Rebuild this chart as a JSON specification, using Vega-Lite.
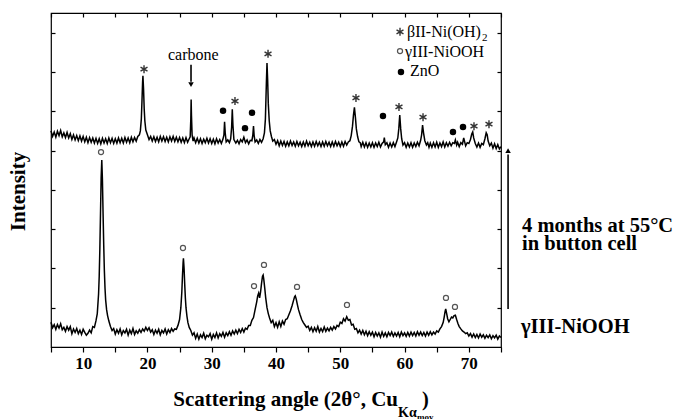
{
  "$schema": "https://vega.github.io/schema/vega-lite/v6.json",
  "width": 450,
  "height": 334,
  "autosize": {"type": "none"},
  "padding": {"left": 51, "top": 13, "right": 179, "bottom": 72},
  "background": "white",
  "config": {
    "view": {"stroke": "#000", "strokeWidth": 1.2},
    "font": "Liberation Serif, Times New Roman, serif"
  },
  "datasets": {
    "tr": [
      {"a":5.0,"i":0.63,"s":"g"},{"a":5.25,"i":0.49,"s":"g"},{"a":5.5,"i":0.57,"s":"g"},{"a":5.75,"i":0.45,"s":"g"},{"a":6.0,"i":0.57,"s":"g"},{"a":6.25,"i":0.48,"s":"g"},{"a":6.5,"i":0.59,"s":"g"},{"a":6.75,"i":0.44,"s":"g"},{"a":7.0,"i":0.5,"s":"g"},{"a":7.25,"i":0.4,"s":"g"},{"a":7.5,"i":0.52,"s":"g"},{"a":7.75,"i":0.43,"s":"g"},{"a":8.0,"i":0.52,"s":"g"},{"a":8.25,"i":0.34,"s":"g"},{"a":8.5,"i":0.46,"s":"g"},{"a":8.75,"i":0.37,"s":"g"},{"a":9.0,"i":0.47,"s":"g"},{"a":9.25,"i":0.34,"s":"g"},{"a":9.5,"i":0.43,"s":"g"},{"a":9.75,"i":0.32,"s":"g"},{"a":10.0,"i":0.45,"s":"g"},{"a":10.25,"i":0.37,"s":"g"},{"a":10.5,"i":0.3,"s":"g"},{"a":10.75,"i":0.35,"s":"g"},{"a":11.0,"i":0.43,"s":"g"},{"a":11.25,"i":0.36,"s":"g"},{"a":11.5,"i":0.52,"s":"g"},{"a":11.75,"i":0.5,"s":"g"},{"a":12.0,"i":0.67,"s":"g"},{"a":12.2,"i":0.85,"s":"g"},{"a":12.4,"i":1.35,"s":"g"},{"a":12.5,"i":1.8,"s":"g"},{"a":12.6,"i":2.5,"s":"g"},{"a":12.7,"i":3.4,"s":"g"},{"a":12.8,"i":4.3,"s":"g"},{"a":12.9,"i":4.76,"s":"g"},{"a":13.0,"i":4.25,"s":"g"},{"a":13.1,"i":3.4,"s":"g"},{"a":13.2,"i":2.6,"s":"g"},{"a":13.3,"i":1.95,"s":"g"},{"a":13.4,"i":1.5,"s":"g"},{"a":13.5,"i":1.2,"s":"g"},{"a":13.65,"i":0.95,"s":"g"},{"a":13.8,"i":0.8,"s":"g"},{"a":14.0,"i":0.66,"s":"g"},{"a":14.25,"i":0.52,"s":"g"},{"a":14.5,"i":0.42,"s":"g"},{"a":14.75,"i":0.47,"s":"g"},{"a":15.0,"i":0.33,"s":"g"},{"a":15.25,"i":0.44,"s":"g"},{"a":15.5,"i":0.35,"s":"g"},{"a":15.75,"i":0.46,"s":"g"},{"a":16.0,"i":0.31,"s":"g"},{"a":16.25,"i":0.42,"s":"g"},{"a":16.5,"i":0.36,"s":"g"},{"a":16.75,"i":0.45,"s":"g"},{"a":17.0,"i":0.3,"s":"g"},{"a":17.25,"i":0.43,"s":"g"},{"a":17.5,"i":0.34,"s":"g"},{"a":17.75,"i":0.47,"s":"g"},{"a":18.0,"i":0.32,"s":"g"},{"a":18.25,"i":0.41,"s":"g"},{"a":18.5,"i":0.35,"s":"g"},{"a":18.75,"i":0.44,"s":"g"},{"a":19.0,"i":0.37,"s":"g"},{"a":19.25,"i":0.46,"s":"g"},{"a":19.5,"i":0.4,"s":"g"},{"a":19.75,"i":0.5,"s":"g"},{"a":20.0,"i":0.42,"s":"g"},{"a":20.25,"i":0.49,"s":"g"},{"a":20.5,"i":0.38,"s":"g"},{"a":20.75,"i":0.44,"s":"g"},{"a":21.0,"i":0.32,"s":"g"},{"a":21.25,"i":0.43,"s":"g"},{"a":21.5,"i":0.35,"s":"g"},{"a":21.75,"i":0.45,"s":"g"},{"a":22.0,"i":0.31,"s":"g"},{"a":22.25,"i":0.42,"s":"g"},{"a":22.5,"i":0.36,"s":"g"},{"a":22.75,"i":0.46,"s":"g"},{"a":23.0,"i":0.33,"s":"g"},{"a":23.25,"i":0.44,"s":"g"},{"a":23.5,"i":0.37,"s":"g"},{"a":23.75,"i":0.47,"s":"g"},{"a":24.0,"i":0.4,"s":"g"},{"a":24.25,"i":0.46,"s":"g"},{"a":24.5,"i":0.45,"s":"g"},{"a":24.75,"i":0.55,"s":"g"},{"a":25.0,"i":0.7,"s":"g"},{"a":25.2,"i":1.0,"s":"g"},{"a":25.35,"i":1.4,"s":"g"},{"a":25.45,"i":1.8,"s":"g"},{"a":25.55,"i":2.15,"s":"g"},{"a":25.6,"i":2.26,"s":"g"},{"a":25.7,"i":2.0,"s":"g"},{"a":25.8,"i":1.6,"s":"g"},{"a":25.9,"i":1.25,"s":"g"},{"a":26.0,"i":1.0,"s":"g"},{"a":26.15,"i":0.78,"s":"g"},{"a":26.3,"i":0.62,"s":"g"},{"a":26.5,"i":0.5,"s":"g"},{"a":26.75,"i":0.42,"s":"g"},{"a":27.0,"i":0.3,"s":"g"},{"a":27.25,"i":0.36,"s":"g"},{"a":27.5,"i":0.22,"s":"g"},{"a":27.75,"i":0.33,"s":"g"},{"a":28.0,"i":0.2,"s":"g"},{"a":28.25,"i":0.31,"s":"g"},{"a":28.5,"i":0.24,"s":"g"},{"a":28.75,"i":0.35,"s":"g"},{"a":29.0,"i":0.21,"s":"g"},{"a":29.25,"i":0.3,"s":"g"},{"a":29.5,"i":0.26,"s":"g"},{"a":29.75,"i":0.34,"s":"g"},{"a":30.0,"i":0.2,"s":"g"},{"a":30.25,"i":0.32,"s":"g"},{"a":30.5,"i":0.24,"s":"g"},{"a":30.75,"i":0.36,"s":"g"},{"a":31.0,"i":0.23,"s":"g"},{"a":31.25,"i":0.34,"s":"g"},{"a":31.5,"i":0.27,"s":"g"},{"a":31.75,"i":0.37,"s":"g"},{"a":32.0,"i":0.25,"s":"g"},{"a":32.25,"i":0.36,"s":"g"},{"a":32.5,"i":0.29,"s":"g"},{"a":32.75,"i":0.39,"s":"g"},{"a":33.0,"i":0.3,"s":"g"},{"a":33.25,"i":0.41,"s":"g"},{"a":33.5,"i":0.33,"s":"g"},{"a":33.75,"i":0.43,"s":"g"},{"a":34.0,"i":0.34,"s":"g"},{"a":34.25,"i":0.45,"s":"g"},{"a":34.5,"i":0.37,"s":"g"},{"a":34.75,"i":0.47,"s":"g"},{"a":35.0,"i":0.38,"s":"g"},{"a":35.25,"i":0.48,"s":"g"},{"a":35.5,"i":0.45,"s":"g"},{"a":35.75,"i":0.55,"s":"g"},{"a":36.0,"i":0.55,"s":"g"},{"a":36.25,"i":0.68,"s":"g"},{"a":36.5,"i":0.75,"s":"g"},{"a":36.75,"i":0.95,"s":"g"},{"a":37.0,"i":1.15,"s":"g"},{"a":37.15,"i":1.3,"s":"g"},{"a":37.3,"i":1.37,"s":"g"},{"a":37.45,"i":1.25,"s":"g"},{"a":37.6,"i":1.4,"s":"g"},{"a":37.75,"i":1.62,"s":"g"},{"a":37.9,"i":1.8,"s":"g"},{"a":38.0,"i":1.83,"s":"g"},{"a":38.1,"i":1.72,"s":"g"},{"a":38.25,"i":1.5,"s":"g"},{"a":38.4,"i":1.25,"s":"g"},{"a":38.6,"i":1.0,"s":"g"},{"a":38.8,"i":0.85,"s":"g"},{"a":39.0,"i":0.74,"s":"g"},{"a":39.25,"i":0.62,"s":"g"},{"a":39.5,"i":0.68,"s":"g"},{"a":39.75,"i":0.52,"s":"g"},{"a":40.0,"i":0.62,"s":"g"},{"a":40.25,"i":0.5,"s":"g"},{"a":40.5,"i":0.64,"s":"g"},{"a":40.75,"i":0.52,"s":"g"},{"a":41.0,"i":0.66,"s":"g"},{"a":41.25,"i":0.58,"s":"g"},{"a":41.5,"i":0.7,"s":"g"},{"a":41.75,"i":0.72,"s":"g"},{"a":42.0,"i":0.82,"s":"g"},{"a":42.25,"i":0.92,"s":"g"},{"a":42.5,"i":1.05,"s":"g"},{"a":42.75,"i":1.2,"s":"g"},{"a":42.9,"i":1.28,"s":"g"},{"a":43.0,"i":1.3,"s":"g"},{"a":43.15,"i":1.22,"s":"g"},{"a":43.3,"i":1.1,"s":"g"},{"a":43.5,"i":0.95,"s":"g"},{"a":43.75,"i":0.82,"s":"g"},{"a":44.0,"i":0.7,"s":"g"},{"a":44.25,"i":0.62,"s":"g"},{"a":44.5,"i":0.56,"s":"g"},{"a":44.75,"i":0.5,"s":"g"},{"a":45.0,"i":0.53,"s":"g"},{"a":45.25,"i":0.42,"s":"g"},{"a":45.5,"i":0.5,"s":"g"},{"a":45.75,"i":0.39,"s":"g"},{"a":46.0,"i":0.49,"s":"g"},{"a":46.25,"i":0.4,"s":"g"},{"a":46.5,"i":0.52,"s":"g"},{"a":46.75,"i":0.38,"s":"g"},{"a":47.0,"i":0.47,"s":"g"},{"a":47.25,"i":0.39,"s":"g"},{"a":47.5,"i":0.51,"s":"g"},{"a":47.75,"i":0.4,"s":"g"},{"a":48.0,"i":0.48,"s":"g"},{"a":48.25,"i":0.41,"s":"g"},{"a":48.5,"i":0.5,"s":"g"},{"a":48.75,"i":0.43,"s":"g"},{"a":49.0,"i":0.52,"s":"g"},{"a":49.25,"i":0.46,"s":"g"},{"a":49.5,"i":0.55,"s":"g"},{"a":49.75,"i":0.52,"s":"g"},{"a":50.0,"i":0.63,"s":"g"},{"a":50.25,"i":0.6,"s":"g"},{"a":50.5,"i":0.72,"s":"g"},{"a":50.75,"i":0.66,"s":"g"},{"a":51.0,"i":0.77,"s":"g"},{"a":51.25,"i":0.68,"s":"g"},{"a":51.5,"i":0.7,"s":"g"},{"a":51.75,"i":0.56,"s":"g"},{"a":52.0,"i":0.58,"s":"g"},{"a":52.25,"i":0.45,"s":"g"},{"a":52.5,"i":0.47,"s":"g"},{"a":52.75,"i":0.36,"s":"g"},{"a":53.0,"i":0.43,"s":"g"},{"a":53.25,"i":0.33,"s":"g"},{"a":53.5,"i":0.42,"s":"g"},{"a":53.75,"i":0.31,"s":"g"},{"a":54.0,"i":0.4,"s":"g"},{"a":54.25,"i":0.29,"s":"g"},{"a":54.5,"i":0.39,"s":"g"},{"a":54.75,"i":0.3,"s":"g"},{"a":55.0,"i":0.38,"s":"g"},{"a":55.25,"i":0.26,"s":"g"},{"a":55.5,"i":0.37,"s":"g"},{"a":55.75,"i":0.28,"s":"g"},{"a":56.0,"i":0.36,"s":"g"},{"a":56.25,"i":0.25,"s":"g"},{"a":56.5,"i":0.38,"s":"g"},{"a":56.75,"i":0.27,"s":"g"},{"a":57.0,"i":0.36,"s":"g"},{"a":57.25,"i":0.26,"s":"g"},{"a":57.5,"i":0.37,"s":"g"},{"a":57.75,"i":0.29,"s":"g"},{"a":58.0,"i":0.38,"s":"g"},{"a":58.25,"i":0.27,"s":"g"},{"a":58.5,"i":0.36,"s":"g"},{"a":58.75,"i":0.28,"s":"g"},{"a":59.0,"i":0.37,"s":"g"},{"a":59.25,"i":0.26,"s":"g"},{"a":59.5,"i":0.38,"s":"g"},{"a":59.75,"i":0.29,"s":"g"},{"a":60.0,"i":0.36,"s":"g"},{"a":60.25,"i":0.27,"s":"g"},{"a":60.5,"i":0.37,"s":"g"},{"a":60.75,"i":0.28,"s":"g"},{"a":61.0,"i":0.38,"s":"g"},{"a":61.25,"i":0.29,"s":"g"},{"a":61.5,"i":0.37,"s":"g"},{"a":61.75,"i":0.28,"s":"g"},{"a":62.0,"i":0.39,"s":"g"},{"a":62.25,"i":0.3,"s":"g"},{"a":62.5,"i":0.38,"s":"g"},{"a":62.75,"i":0.29,"s":"g"},{"a":63.0,"i":0.37,"s":"g"},{"a":63.25,"i":0.28,"s":"g"},{"a":63.5,"i":0.38,"s":"g"},{"a":63.75,"i":0.3,"s":"g"},{"a":64.0,"i":0.39,"s":"g"},{"a":64.25,"i":0.31,"s":"g"},{"a":64.5,"i":0.38,"s":"g"},{"a":64.75,"i":0.33,"s":"g"},{"a":65.0,"i":0.41,"s":"g"},{"a":65.25,"i":0.38,"s":"g"},{"a":65.5,"i":0.46,"s":"g"},{"a":65.75,"i":0.52,"s":"g"},{"a":66.0,"i":0.62,"s":"g"},{"a":66.15,"i":0.75,"s":"g"},{"a":66.3,"i":0.9,"s":"g"},{"a":66.4,"i":0.97,"s":"g"},{"a":66.55,"i":0.85,"s":"g"},{"a":66.7,"i":0.72,"s":"g"},{"a":66.9,"i":0.64,"s":"g"},{"a":67.1,"i":0.7,"s":"g"},{"a":67.3,"i":0.76,"s":"g"},{"a":67.5,"i":0.74,"s":"g"},{"a":67.7,"i":0.8,"s":"g"},{"a":67.9,"i":0.81,"s":"g"},{"a":68.1,"i":0.7,"s":"g"},{"a":68.3,"i":0.6,"s":"g"},{"a":68.5,"i":0.52,"s":"g"},{"a":68.75,"i":0.46,"s":"g"},{"a":69.0,"i":0.41,"s":"g"},{"a":69.25,"i":0.38,"s":"g"},{"a":69.5,"i":0.34,"s":"g"},{"a":69.75,"i":0.36,"s":"g"},{"a":70.0,"i":0.28,"s":"g"},{"a":70.25,"i":0.34,"s":"g"},{"a":70.5,"i":0.25,"s":"g"},{"a":70.75,"i":0.33,"s":"g"},{"a":71.0,"i":0.24,"s":"g"},{"a":71.25,"i":0.32,"s":"g"},{"a":71.5,"i":0.23,"s":"g"},{"a":71.75,"i":0.33,"s":"g"},{"a":72.0,"i":0.25,"s":"g"},{"a":72.25,"i":0.31,"s":"g"},{"a":72.5,"i":0.22,"s":"g"},{"a":72.75,"i":0.3,"s":"g"},{"a":73.0,"i":0.24,"s":"g"},{"a":73.25,"i":0.31,"s":"g"},{"a":73.5,"i":0.21,"s":"g"},{"a":73.75,"i":0.29,"s":"g"},{"a":74.0,"i":0.23,"s":"g"},{"a":74.25,"i":0.3,"s":"g"},{"a":74.5,"i":0.2,"s":"g"},{"a":74.75,"i":0.28,"s":"g"},{"a":75.0,"i":0.24,"s":"g"},
      {"a":5.0,"i":5.5,"s":"t"},{"a":5.25,"i":5.36,"s":"t"},{"a":5.5,"i":5.47,"s":"t"},{"a":5.75,"i":5.34,"s":"t"},{"a":6.0,"i":5.49,"s":"t"},{"a":6.25,"i":5.38,"s":"t"},{"a":6.5,"i":5.51,"s":"t"},{"a":6.75,"i":5.35,"s":"t"},{"a":7.0,"i":5.45,"s":"t"},{"a":7.25,"i":5.33,"s":"t"},{"a":7.5,"i":5.46,"s":"t"},{"a":7.75,"i":5.32,"s":"t"},{"a":8.0,"i":5.43,"s":"t"},{"a":8.25,"i":5.28,"s":"t"},{"a":8.5,"i":5.4,"s":"t"},{"a":8.75,"i":5.27,"s":"t"},{"a":9.0,"i":5.38,"s":"t"},{"a":9.25,"i":5.25,"s":"t"},{"a":9.5,"i":5.37,"s":"t"},{"a":9.75,"i":5.24,"s":"t"},{"a":10.0,"i":5.36,"s":"t"},{"a":10.25,"i":5.22,"s":"t"},{"a":10.5,"i":5.34,"s":"t"},{"a":10.75,"i":5.2,"s":"t"},{"a":11.0,"i":5.33,"s":"t"},{"a":11.25,"i":5.21,"s":"t"},{"a":11.5,"i":5.32,"s":"t"},{"a":11.75,"i":5.19,"s":"t"},{"a":12.0,"i":5.31,"s":"t"},{"a":12.25,"i":5.18,"s":"t"},{"a":12.5,"i":5.3,"s":"t"},{"a":12.75,"i":5.17,"s":"t"},{"a":13.0,"i":5.31,"s":"t"},{"a":13.25,"i":5.19,"s":"t"},{"a":13.5,"i":5.3,"s":"t"},{"a":13.75,"i":5.18,"s":"t"},{"a":14.0,"i":5.32,"s":"t"},{"a":14.25,"i":5.2,"s":"t"},{"a":14.5,"i":5.31,"s":"t"},{"a":14.75,"i":5.18,"s":"t"},{"a":15.0,"i":5.3,"s":"t"},{"a":15.25,"i":5.19,"s":"t"},{"a":15.5,"i":5.32,"s":"t"},{"a":15.75,"i":5.2,"s":"t"},{"a":16.0,"i":5.31,"s":"t"},{"a":16.25,"i":5.19,"s":"t"},{"a":16.5,"i":5.33,"s":"t"},{"a":16.75,"i":5.21,"s":"t"},{"a":17.0,"i":5.32,"s":"t"},{"a":17.25,"i":5.2,"s":"t"},{"a":17.5,"i":5.34,"s":"t"},{"a":17.75,"i":5.22,"s":"t"},{"a":18.0,"i":5.33,"s":"t"},{"a":18.25,"i":5.24,"s":"t"},{"a":18.5,"i":5.36,"s":"t"},{"a":18.75,"i":5.4,"s":"t"},{"a":18.9,"i":5.5,"s":"t"},{"a":19.05,"i":5.8,"s":"t"},{"a":19.15,"i":6.25,"s":"t"},{"a":19.25,"i":6.75,"s":"t"},{"a":19.3,"i":6.9,"s":"t"},{"a":19.4,"i":6.55,"s":"t"},{"a":19.5,"i":6.05,"s":"t"},{"a":19.6,"i":5.75,"s":"t"},{"a":19.75,"i":5.52,"s":"t"},{"a":20.0,"i":5.4,"s":"t"},{"a":20.25,"i":5.28,"s":"t"},{"a":20.5,"i":5.36,"s":"t"},{"a":20.75,"i":5.24,"s":"t"},{"a":21.0,"i":5.35,"s":"t"},{"a":21.25,"i":5.23,"s":"t"},{"a":21.5,"i":5.34,"s":"t"},{"a":21.75,"i":5.22,"s":"t"},{"a":22.0,"i":5.36,"s":"t"},{"a":22.25,"i":5.24,"s":"t"},{"a":22.5,"i":5.35,"s":"t"},{"a":22.75,"i":5.23,"s":"t"},{"a":23.0,"i":5.34,"s":"t"},{"a":23.25,"i":5.22,"s":"t"},{"a":23.5,"i":5.35,"s":"t"},{"a":23.75,"i":5.24,"s":"t"},{"a":24.0,"i":5.36,"s":"t"},{"a":24.25,"i":5.23,"s":"t"},{"a":24.5,"i":5.34,"s":"t"},{"a":24.75,"i":5.22,"s":"t"},{"a":25.0,"i":5.33,"s":"t"},{"a":25.25,"i":5.21,"s":"t"},{"a":25.5,"i":5.32,"s":"t"},{"a":25.75,"i":5.2,"s":"t"},{"a":26.0,"i":5.33,"s":"t"},{"a":26.25,"i":5.21,"s":"t"},{"a":26.5,"i":5.3,"s":"t"},{"a":26.65,"i":5.35,"s":"t"},{"a":26.75,"i":5.8,"s":"t"},{"a":26.8,"i":6.3,"s":"t"},{"a":26.85,"i":5.9,"s":"t"},{"a":26.95,"i":5.4,"s":"t"},{"a":27.1,"i":5.24,"s":"t"},{"a":27.25,"i":5.32,"s":"t"},{"a":27.5,"i":5.2,"s":"t"},{"a":27.75,"i":5.31,"s":"t"},{"a":28.0,"i":5.19,"s":"t"},{"a":28.25,"i":5.3,"s":"t"},{"a":28.5,"i":5.18,"s":"t"},{"a":28.75,"i":5.29,"s":"t"},{"a":29.0,"i":5.2,"s":"t"},{"a":29.25,"i":5.31,"s":"t"},{"a":29.5,"i":5.19,"s":"t"},{"a":29.75,"i":5.3,"s":"t"},{"a":30.0,"i":5.18,"s":"t"},{"a":30.25,"i":5.29,"s":"t"},{"a":30.5,"i":5.17,"s":"t"},{"a":30.75,"i":5.3,"s":"t"},{"a":31.0,"i":5.19,"s":"t"},{"a":31.25,"i":5.28,"s":"t"},{"a":31.5,"i":5.18,"s":"t"},{"a":31.75,"i":5.29,"s":"t"},{"a":31.9,"i":5.4,"s":"t"},{"a":32.0,"i":5.73,"s":"t"},{"a":32.1,"i":5.45,"s":"t"},{"a":32.25,"i":5.22,"s":"t"},{"a":32.5,"i":5.27,"s":"t"},{"a":32.75,"i":5.2,"s":"t"},{"a":32.95,"i":5.3,"s":"t"},{"a":33.1,"i":5.6,"s":"t"},{"a":33.2,"i":6.05,"s":"t"},{"a":33.3,"i":5.65,"s":"t"},{"a":33.45,"i":5.28,"s":"t"},{"a":33.75,"i":5.19,"s":"t"},{"a":34.0,"i":5.26,"s":"t"},{"a":34.25,"i":5.17,"s":"t"},{"a":34.5,"i":5.28,"s":"t"},{"a":34.75,"i":5.22,"s":"t"},{"a":35.0,"i":5.34,"s":"t"},{"a":35.25,"i":5.2,"s":"t"},{"a":35.5,"i":5.27,"s":"t"},{"a":35.75,"i":5.17,"s":"t"},{"a":36.0,"i":5.26,"s":"t"},{"a":36.25,"i":5.25,"s":"t"},{"a":36.4,"i":5.4,"s":"t"},{"a":36.5,"i":5.62,"s":"t"},{"a":36.6,"i":5.38,"s":"t"},{"a":36.75,"i":5.22,"s":"t"},{"a":37.0,"i":5.27,"s":"t"},{"a":37.25,"i":5.18,"s":"t"},{"a":37.5,"i":5.28,"s":"t"},{"a":37.75,"i":5.21,"s":"t"},{"a":38.0,"i":5.3,"s":"t"},{"a":38.2,"i":5.45,"s":"t"},{"a":38.35,"i":5.8,"s":"t"},{"a":38.5,"i":6.7,"s":"t"},{"a":38.6,"i":7.23,"s":"t"},{"a":38.7,"i":6.8,"s":"t"},{"a":38.8,"i":6.2,"s":"t"},{"a":38.95,"i":5.75,"s":"t"},{"a":39.1,"i":5.5,"s":"t"},{"a":39.3,"i":5.35,"s":"t"},{"a":39.5,"i":5.24,"s":"t"},{"a":39.75,"i":5.28,"s":"t"},{"a":40.0,"i":5.16,"s":"t"},{"a":40.25,"i":5.25,"s":"t"},{"a":40.5,"i":5.12,"s":"t"},{"a":40.75,"i":5.24,"s":"t"},{"a":41.0,"i":5.13,"s":"t"},{"a":41.25,"i":5.23,"s":"t"},{"a":41.5,"i":5.11,"s":"t"},{"a":41.75,"i":5.22,"s":"t"},{"a":42.0,"i":5.12,"s":"t"},{"a":42.25,"i":5.24,"s":"t"},{"a":42.5,"i":5.13,"s":"t"},{"a":42.75,"i":5.22,"s":"t"},{"a":43.0,"i":5.11,"s":"t"},{"a":43.25,"i":5.23,"s":"t"},{"a":43.5,"i":5.12,"s":"t"},{"a":43.75,"i":5.21,"s":"t"},{"a":44.0,"i":5.1,"s":"t"},{"a":44.25,"i":5.22,"s":"t"},{"a":44.5,"i":5.11,"s":"t"},{"a":44.75,"i":5.24,"s":"t"},{"a":45.0,"i":5.12,"s":"t"},{"a":45.25,"i":5.21,"s":"t"},{"a":45.5,"i":5.1,"s":"t"},{"a":45.75,"i":5.22,"s":"t"},{"a":46.0,"i":5.11,"s":"t"},{"a":46.25,"i":5.23,"s":"t"},{"a":46.5,"i":5.12,"s":"t"},{"a":46.75,"i":5.21,"s":"t"},{"a":47.0,"i":5.1,"s":"t"},{"a":47.25,"i":5.22,"s":"t"},{"a":47.5,"i":5.11,"s":"t"},{"a":47.75,"i":5.23,"s":"t"},{"a":48.0,"i":5.12,"s":"t"},{"a":48.25,"i":5.21,"s":"t"},{"a":48.5,"i":5.1,"s":"t"},{"a":48.75,"i":5.22,"s":"t"},{"a":49.0,"i":5.11,"s":"t"},{"a":49.25,"i":5.23,"s":"t"},{"a":49.5,"i":5.12,"s":"t"},{"a":49.75,"i":5.21,"s":"t"},{"a":50.0,"i":5.1,"s":"t"},{"a":50.25,"i":5.22,"s":"t"},{"a":50.5,"i":5.11,"s":"t"},{"a":50.75,"i":5.23,"s":"t"},{"a":51.0,"i":5.14,"s":"t"},{"a":51.25,"i":5.22,"s":"t"},{"a":51.5,"i":5.25,"s":"t"},{"a":51.7,"i":5.38,"s":"t"},{"a":51.9,"i":5.62,"s":"t"},{"a":52.05,"i":5.9,"s":"t"},{"a":52.2,"i":6.1,"s":"t"},{"a":52.35,"i":5.85,"s":"t"},{"a":52.5,"i":5.55,"s":"t"},{"a":52.7,"i":5.35,"s":"t"},{"a":52.9,"i":5.22,"s":"t"},{"a":53.1,"i":5.2,"s":"t"},{"a":53.25,"i":5.1,"s":"t"},{"a":53.5,"i":5.21,"s":"t"},{"a":53.75,"i":5.09,"s":"t"},{"a":54.0,"i":5.2,"s":"t"},{"a":54.25,"i":5.08,"s":"t"},{"a":54.5,"i":5.19,"s":"t"},{"a":54.75,"i":5.09,"s":"t"},{"a":55.0,"i":5.2,"s":"t"},{"a":55.25,"i":5.08,"s":"t"},{"a":55.5,"i":5.19,"s":"t"},{"a":55.75,"i":5.1,"s":"t"},{"a":56.0,"i":5.21,"s":"t"},{"a":56.25,"i":5.09,"s":"t"},{"a":56.5,"i":5.18,"s":"t"},{"a":56.75,"i":5.22,"s":"t"},{"a":56.85,"i":5.33,"s":"t"},{"a":57.0,"i":5.15,"s":"t"},{"a":57.25,"i":5.2,"s":"t"},{"a":57.5,"i":5.08,"s":"t"},{"a":57.75,"i":5.19,"s":"t"},{"a":58.0,"i":5.09,"s":"t"},{"a":58.25,"i":5.2,"s":"t"},{"a":58.5,"i":5.1,"s":"t"},{"a":58.75,"i":5.22,"s":"t"},{"a":58.95,"i":5.32,"s":"t"},{"a":59.1,"i":5.55,"s":"t"},{"a":59.25,"i":5.9,"s":"t"},{"a":59.4,"i":5.55,"s":"t"},{"a":59.55,"i":5.3,"s":"t"},{"a":59.75,"i":5.14,"s":"t"},{"a":60.0,"i":5.2,"s":"t"},{"a":60.25,"i":5.08,"s":"t"},{"a":60.5,"i":5.19,"s":"t"},{"a":60.75,"i":5.09,"s":"t"},{"a":61.0,"i":5.2,"s":"t"},{"a":61.25,"i":5.08,"s":"t"},{"a":61.5,"i":5.19,"s":"t"},{"a":61.75,"i":5.1,"s":"t"},{"a":62.0,"i":5.21,"s":"t"},{"a":62.25,"i":5.12,"s":"t"},{"a":62.5,"i":5.26,"s":"t"},{"a":62.65,"i":5.4,"s":"t"},{"a":62.8,"i":5.65,"s":"t"},{"a":62.95,"i":5.45,"s":"t"},{"a":63.15,"i":5.25,"s":"t"},{"a":63.4,"i":5.14,"s":"t"},{"a":63.6,"i":5.2,"s":"t"},{"a":63.8,"i":5.08,"s":"t"},{"a":64.0,"i":5.19,"s":"t"},{"a":64.25,"i":5.08,"s":"t"},{"a":64.5,"i":5.2,"s":"t"},{"a":64.75,"i":5.09,"s":"t"},{"a":65.0,"i":5.21,"s":"t"},{"a":65.25,"i":5.08,"s":"t"},{"a":65.5,"i":5.19,"s":"t"},{"a":65.75,"i":5.1,"s":"t"},{"a":66.0,"i":5.22,"s":"t"},{"a":66.25,"i":5.09,"s":"t"},{"a":66.5,"i":5.2,"s":"t"},{"a":66.75,"i":5.11,"s":"t"},{"a":67.0,"i":5.21,"s":"t"},{"a":67.25,"i":5.12,"s":"t"},{"a":67.5,"i":5.2,"s":"t"},{"a":67.75,"i":5.18,"s":"t"},{"a":67.9,"i":5.27,"s":"t"},{"a":68.1,"i":5.14,"s":"t"},{"a":68.25,"i":5.21,"s":"t"},{"a":68.5,"i":5.1,"s":"t"},{"a":68.75,"i":5.2,"s":"t"},{"a":69.0,"i":5.16,"s":"t"},{"a":69.2,"i":5.32,"s":"t"},{"a":69.35,"i":5.22,"s":"t"},{"a":69.5,"i":5.12,"s":"t"},{"a":69.75,"i":5.2,"s":"t"},{"a":70.0,"i":5.18,"s":"t"},{"a":70.25,"i":5.28,"s":"t"},{"a":70.45,"i":5.42,"s":"t"},{"a":70.6,"i":5.47,"s":"t"},{"a":70.75,"i":5.32,"s":"t"},{"a":71.0,"i":5.18,"s":"t"},{"a":71.25,"i":5.09,"s":"t"},{"a":71.5,"i":5.19,"s":"t"},{"a":71.75,"i":5.08,"s":"t"},{"a":72.0,"i":5.18,"s":"t"},{"a":72.25,"i":5.15,"s":"t"},{"a":72.5,"i":5.3,"s":"t"},{"a":72.7,"i":5.45,"s":"t"},{"a":72.85,"i":5.4,"s":"t"},{"a":73.0,"i":5.24,"s":"t"},{"a":73.25,"i":5.12,"s":"t"},{"a":73.5,"i":5.19,"s":"t"},{"a":73.75,"i":5.06,"s":"t"},{"a":74.0,"i":5.17,"s":"t"},{"a":74.25,"i":5.05,"s":"t"},{"a":74.5,"i":5.15,"s":"t"},{"a":74.75,"i":5.04,"s":"t"},{"a":75.0,"i":5.1,"s":"t"}
    ],
    "sym": [
      {"a":19.47,"i":7.07,"k":"star"},{"a":33.62,"i":6.26,"k":"star"},{"a":38.76,"i":7.46,"k":"star"},{"a":52.44,"i":6.34,"k":"star"},{"a":59.13,"i":6.11,"k":"star"},{"a":62.87,"i":5.85,"k":"star"},{"a":70.8,"i":5.62,"k":"star"},{"a":73.13,"i":5.67,"k":"star"},{"a":59.29,"i":8.02,"k":"star"},
      {"a":12.78,"i":4.96,"k":"open"},{"a":25.53,"i":2.52,"k":"open"},{"a":36.58,"i":1.55,"k":"open"},{"a":38.13,"i":2.09,"k":"open"},{"a":43.27,"i":1.53,"k":"open"},{"a":51.04,"i":1.07,"k":"open"},{"a":66.44,"i":1.25,"k":"open"},{"a":67.84,"i":1.02,"k":"open"},{"a":59.29,"i":7.53,"k":"open"},
      {"a":31.76,"i":6.01,"k":"dot"},{"a":35.18,"i":5.57,"k":"dot"},{"a":36.27,"i":5.96,"k":"dot"},{"a":56.64,"i":5.88,"k":"dot"},{"a":67.53,"i":5.47,"k":"dot"},{"a":69.09,"i":5.6,"k":"dot"},{"a":59.44,"i":7.0,"k":"dot"}
    ]
  },
  "resolve": {"axis": {"x": "independent", "y": "independent"}},
  "layer": [
    {
      "data": {"name": "tr"},
      "mark": {"type": "line", "color": "#000", "strokeWidth": 1.5, "interpolate": "linear"},
      "encoding": {
        "x": {"field": "a", "type": "quantitative", "scale": {"domain": [5, 75], "nice": false, "zero": false},
              "axis": {"orient": "bottom", "title": null, "values": [5,10,15,20,25,30,35,40,45,50,55,60,65,70,75],
                       "labelExpr": "datum.value % 10 == 0 ? datum.label : ''", "grid": false, "domain": false,
                       "tickSize": 5, "tickColor": "#000", "tickWidth": 1.2, "labelPadding": 3,
                       "labelFont": "Liberation Serif, Times New Roman, serif", "labelFontWeight": "bold", "labelFontSize": 17, "labelColor": "#000"}},
        "y": {"field": "i", "type": "quantitative", "scale": {"domain": [0, 8.5], "nice": false, "zero": false},
              "axis": {"orient": "left", "title": "Intensity", "values": [1,2,3,4,5,6,7,8], "labels": false, "grid": false,
                       "domain": false, "tickSize": -4, "tickColor": "#000", "tickWidth": 1.2,
                       "titleFont": "Liberation Serif, Times New Roman, serif", "titleFontWeight": "bold", "titleFontSize": 21, "titleColor": "#000",
                       "titleX": -33, "titleY": 178, "titleAngle": -90, "titleAlign": "center", "titleBaseline": "middle"}},
        "detail": {"field": "s"}
      }
    },
    {
      "data": {"name": "sym"},
      "transform": [{"filter": "datum.k == 'star'"}],
      "mark": {"type": "point", "shape": "M0,-1L0,1M-0.87,-0.5L0.87,0.5M-0.87,0.5L0.87,-0.5", "filled": false, "stroke": "#333", "strokeWidth": 1.4, "size": 64, "opacity": 1},
      "encoding": {
        "x": {"field": "a", "type": "quantitative", "scale": {"domain": [5, 75], "nice": false, "zero": false},
              "axis": {"orient": "top", "title": null, "values": [5,10,15,20,25,30,35,40,45,50,55,60,65,70,75], "labels": false,
                       "grid": false, "domain": false, "tickSize": -4, "tickColor": "#000", "tickWidth": 1.2}},
        "y": {"field": "i", "type": "quantitative", "scale": {"domain": [0, 8.5], "nice": false, "zero": false},
              "axis": {"orient": "right", "title": null, "values": [1,2,3,4,5,6,7,8], "labels": false,
                       "grid": false, "domain": false, "tickSize": -4, "tickColor": "#000", "tickWidth": 1.2}}
      }
    },
    {
      "data": {"name": "sym"},
      "transform": [{"filter": "datum.k == 'open'"}],
      "mark": {"type": "point", "shape": "circle", "filled": false, "stroke": "#555", "strokeWidth": 1.2, "size": 26, "opacity": 1},
      "encoding": {
        "x": {"field": "a", "type": "quantitative", "scale": {"domain": [5, 75], "nice": false, "zero": false}, "axis": null},
        "y": {"field": "i", "type": "quantitative", "scale": {"domain": [0, 8.5], "nice": false, "zero": false}, "axis": null}
      }
    },
    {
      "data": {"name": "sym"},
      "transform": [{"filter": "datum.k == 'dot'"}],
      "mark": {"type": "point", "shape": "circle", "filled": true, "color": "#000", "size": 42, "opacity": 1},
      "encoding": {
        "x": {"field": "a", "type": "quantitative", "scale": {"domain": [5, 75], "nice": false, "zero": false}, "axis": null},
        "y": {"field": "i", "type": "quantitative", "scale": {"domain": [0, 8.5], "nice": false, "zero": false}, "axis": null}
      }
    },
    {
      "data": {"values": [{"a": 26.78, "i": 7.18, "i2": 6.75}, {"a": 76.1, "i": 0.97, "i2": 4.9}]},
      "mark": {"type": "rule", "color": "#000", "strokeWidth": 1.6},
      "encoding": {
        "x": {"field": "a", "type": "quantitative", "scale": {"domain": [5, 75], "nice": false, "zero": false}, "axis": null},
        "y": {"field": "i", "type": "quantitative", "scale": {"domain": [0, 8.5], "nice": false, "zero": false}, "axis": null},
        "y2": {"field": "i2"}
      }
    },
    {
      "data": {"values": [{"a": 26.78, "i": 6.68, "d": "down"}, {"a": 76.1, "i": 5.0, "d": "up"}]},
      "mark": {"type": "point", "filled": true, "color": "#000", "size": 30, "opacity": 1},
      "encoding": {
        "x": {"field": "a", "type": "quantitative", "scale": {"domain": [5, 75], "nice": false, "zero": false}, "axis": null},
        "y": {"field": "i", "type": "quantitative", "scale": {"domain": [0, 8.5], "nice": false, "zero": false}, "axis": null},
        "shape": {"field": "d", "type": "nominal", "scale": {"domain": ["down", "up"], "range": ["triangle-down", "triangle-up"]}, "legend": null}
      }
    },
    {
      "data": {"values": [
        {"a": 60.38, "i": 7.89, "t": "βII-Ni(OH)"},
        {"a": 60.07, "i": 7.38, "t": "γIII-NiOOH"},
        {"a": 60.84, "i": 6.9, "t": "ZnO"},
        {"a": 23.2, "i": 7.3, "t": "carbone"}
      ]},
      "mark": {"type": "text", "font": "Liberation Serif, Times New Roman, serif", "fontSize": 16, "fontWeight": "normal", "color": "#000", "align": "left", "baseline": "alphabetic"},
      "encoding": {
        "x": {"field": "a", "type": "quantitative", "scale": {"domain": [5, 75], "nice": false, "zero": false}, "axis": null},
        "y": {"field": "i", "type": "quantitative", "scale": {"domain": [0, 8.5], "nice": false, "zero": false}, "axis": null},
        "text": {"field": "t"}
      }
    },
    {
      "data": {"values": [{"a": 72.05, "i": 7.79, "t": "2"}]},
      "mark": {"type": "text", "font": "Liberation Serif, Times New Roman, serif", "fontSize": 11, "color": "#000", "align": "left", "baseline": "alphabetic"},
      "encoding": {
        "x": {"field": "a", "type": "quantitative", "scale": {"domain": [5, 75], "nice": false, "zero": false}, "axis": null},
        "y": {"field": "i", "type": "quantitative", "scale": {"domain": [0, 8.5], "nice": false, "zero": false}, "axis": null},
        "text": {"field": "t"}
      }
    },
    {
      "data": {"values": [
        {"a": 78.27, "i": 2.93, "t": "4 months at 55°C"},
        {"a": 78.27, "i": 2.47, "t": "in button cell"},
        {"a": 78.11, "i": 0.36, "t": "γIII-NiOOH"},
        {"a": 62.71, "i": -1.5, "t": ")"}
      ]},
      "mark": {"type": "text", "font": "Liberation Serif, Times New Roman, serif", "fontSize": 20.5, "fontWeight": "bold", "color": "#000", "align": "left", "baseline": "alphabetic"},
      "encoding": {
        "x": {"field": "a", "type": "quantitative", "scale": {"domain": [5, 75], "nice": false, "zero": false}, "axis": null},
        "y": {"field": "i", "type": "quantitative", "scale": {"domain": [0, 8.5], "nice": false, "zero": false}, "axis": null},
        "text": {"field": "t"}
      }
    },
    {
      "data": {"values": [{"a": 58.98, "i": -1.5, "t": "Scattering angle (2θ°, Cu"}]},
      "mark": {"type": "text", "font": "Liberation Serif, Times New Roman, serif", "fontSize": 21, "fontWeight": "bold", "color": "#000", "align": "right", "baseline": "alphabetic"},
      "encoding": {
        "x": {"field": "a", "type": "quantitative", "scale": {"domain": [5, 75], "nice": false, "zero": false}, "axis": null},
        "y": {"field": "i", "type": "quantitative", "scale": {"domain": [0, 8.5], "nice": false, "zero": false}, "axis": null},
        "text": {"field": "t"}
      }
    },
    {
      "data": {"values": [{"a": 58.98, "i": -1.77, "t": "Kα"}]},
      "mark": {"type": "text", "font": "Liberation Serif, Times New Roman, serif", "fontSize": 14, "fontWeight": "bold", "color": "#000", "align": "left", "baseline": "alphabetic"},
      "encoding": {
        "x": {"field": "a", "type": "quantitative", "scale": {"domain": [5, 75], "nice": false, "zero": false}, "axis": null},
        "y": {"field": "i", "type": "quantitative", "scale": {"domain": [0, 8.5], "nice": false, "zero": false}, "axis": null},
        "text": {"field": "t"}
      }
    },
    {
      "data": {"values": [{"a": 61.93, "i": -1.87, "t": "moy"}]},
      "mark": {"type": "text", "font": "Liberation Serif, Times New Roman, serif", "fontSize": 9, "fontWeight": "bold", "color": "#000", "align": "left", "baseline": "alphabetic"},
      "encoding": {
        "x": {"field": "a", "type": "quantitative", "scale": {"domain": [5, 75], "nice": false, "zero": false}, "axis": null},
        "y": {"field": "i", "type": "quantitative", "scale": {"domain": [0, 8.5], "nice": false, "zero": false}, "axis": null},
        "text": {"field": "t"}
      }
    }
  ]
}
